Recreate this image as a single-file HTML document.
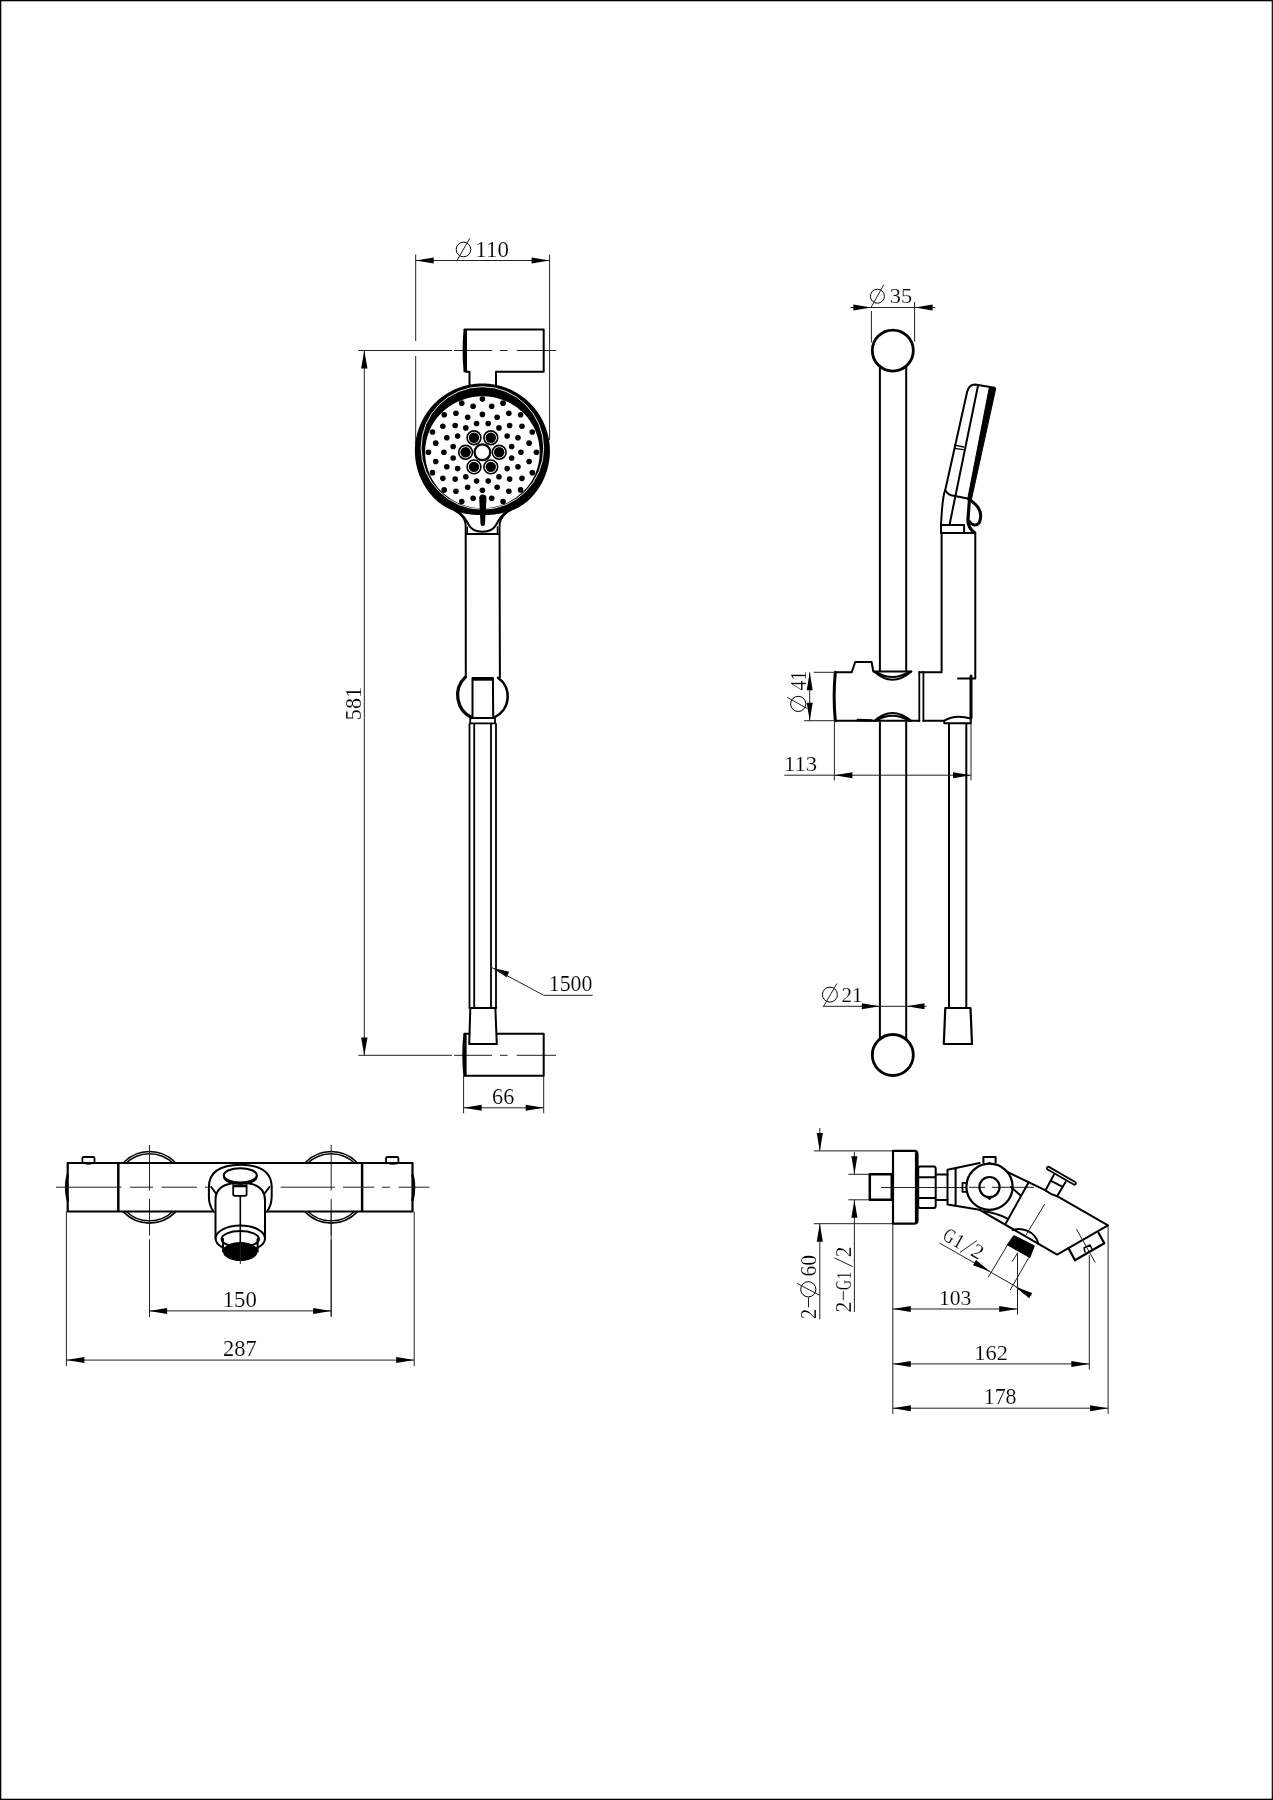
<!DOCTYPE html>
<html><head><meta charset="utf-8"><style>
html,body{margin:0;padding:0;background:#fff;}
svg{display:block;will-change:transform;}
text{font-family:"Liberation Serif",serif;fill:#000;stroke:#fff;stroke-width:0.7px;paint-order:normal;}
</style></head><body>
<svg width="1273" height="1800" viewBox="0 0 1273 1800">
<rect x="0" y="0" width="1273" height="1800" fill="#fff"/>
<rect x="0" y="0" width="1.3" height="1800" fill="#000"/><rect x="0" y="0" width="1273" height="1.3" fill="#000"/><rect x="1271.7" y="0" width="1.3" height="1800" fill="#1a1a1a"/><rect x="0" y="1798.7" width="1273" height="1.3" fill="#000"/>
<line x1="415.70" y1="254.50" x2="415.70" y2="341.00" stroke="#222" stroke-width="1.0" />
<line x1="415.70" y1="356.00" x2="415.70" y2="445.00" stroke="#222" stroke-width="1.0" />
<line x1="549.60" y1="254.50" x2="549.60" y2="440.00" stroke="#222" stroke-width="1.0" />
<line x1="415.70" y1="260.50" x2="549.60" y2="260.50" stroke="#222" stroke-width="1.0" />
<path d="M415.70,260.50 L433.70,257.50 L433.70,263.50 Z" fill="#000"/>
<path d="M549.60,260.50 L531.60,263.50 L531.60,257.50 Z" fill="#000"/>
<ellipse cx="463.5" cy="249.5" rx="7.3" ry="7.3" fill="none" stroke="#000" stroke-width="1"/>
<line x1="457.20" y1="260.20" x2="469.80" y2="238.20" stroke="#222" stroke-width="1.0" />
<text x="0" y="0" font-size="100" transform="translate(475.35,256.78) scale(0.2291,0.2222)">110</text>
<line x1="358.30" y1="350.50" x2="452.00" y2="350.50" stroke="#222" stroke-width="1.0" />
<line x1="454.00" y1="350.50" x2="492.00" y2="350.50" stroke="#222" stroke-width="1.0" />
<line x1="500.00" y1="350.50" x2="507.60" y2="350.50" stroke="#222" stroke-width="1.0" />
<line x1="516.70" y1="350.50" x2="556.00" y2="350.50" stroke="#222" stroke-width="1.0" />
<line x1="358.30" y1="1055.30" x2="452.00" y2="1055.30" stroke="#222" stroke-width="1.0" />
<line x1="454.00" y1="1055.30" x2="492.00" y2="1055.30" stroke="#222" stroke-width="1.0" />
<line x1="500.00" y1="1055.30" x2="507.60" y2="1055.30" stroke="#222" stroke-width="1.0" />
<line x1="516.70" y1="1055.30" x2="556.00" y2="1055.30" stroke="#222" stroke-width="1.0" />
<line x1="364.30" y1="350.60" x2="364.30" y2="1055.40" stroke="#222" stroke-width="1.0" />
<path d="M364.30,350.60 L367.50,368.60 L361.10,368.60 Z" fill="#000"/>
<path d="M364.30,1055.40 L361.10,1037.40 L367.50,1037.40 Z" fill="#000"/>
<text x="0" y="0" font-size="100" transform="translate(360.56,720.13) rotate(-90) scale(0.2210,0.2370)">581</text>
<path d="M464.5,329.6 L543.7,329.6 L543.7,371.8 L496,371.8 L496,386" fill="none" stroke="#000" stroke-width="2.0" stroke-linejoin="round" stroke-linecap="round" />
<path d="M466,371.8 L469.5,371.8 L469.5,386" fill="none" stroke="#000" stroke-width="2.0" stroke-linejoin="round" stroke-linecap="round" />
<path d="M463.6,329.2 Q461.6,350.5 463.6,372.3 L467,372.3 L467,329.2 Z" fill="#000"/>
<path d="M464.5,1033.8 L469.5,1033.8" fill="none" stroke="#000" stroke-width="2.0" stroke-linejoin="round" stroke-linecap="round" />
<path d="M496.8,1033.8 L543.7,1033.8 L543.7,1075.8 L464.5,1075.8" fill="none" stroke="#000" stroke-width="2.0" stroke-linejoin="round" stroke-linecap="round" />
<path d="M463.4,1033.4 Q461.2,1054.6 463.4,1076.3 L466.6,1076.3 L466.6,1033.4 Z" fill="#000"/>
<path d="M549.90,451.00 L549.89,452.18 L549.86,453.36 L549.81,454.53 L549.74,455.71 L549.64,456.88 L549.53,458.06 L549.40,459.23 L549.24,460.39 L549.07,461.56 L548.87,462.72 L548.66,463.88 L548.42,465.03 L548.17,466.18 L547.89,467.33 L547.60,468.47 L547.29,469.61 L546.95,470.74 L546.60,471.86 L546.22,472.98 L545.83,474.09 L545.42,475.19 L544.98,476.29 L544.53,477.37 L544.06,478.45 L543.58,479.53 L543.07,480.59 L542.54,481.64 L542.00,482.69 L541.44,483.72 L540.86,484.75 L540.26,485.77 L539.64,486.77 L539.01,487.76 L538.36,488.75 L537.69,489.72 L537.01,490.68 L536.31,491.62 L535.59,492.56 L534.86,493.48 L534.11,494.39 L533.34,495.28 L532.56,496.17 L531.77,497.03 L530.96,497.89 L530.13,498.73 L529.29,499.55 L528.42,500.35 L527.54,501.13 L526.64,501.89 L525.72,502.63 L524.79,503.34 L523.83,504.03 L522.87,504.70 L521.88,505.35 L520.89,505.97 L519.88,506.56 L518.86,507.14 L517.82,507.69 L516.78,508.22 L515.73,508.72 L514.66,509.20 L513.59,509.66 L512.51,510.10 L511.43,510.51 L510.33,510.90 L509.24,511.27 L508.13,511.62 L507.03,511.95 L505.92,512.26 L504.80,512.55 L503.69,512.83 L502.57,513.08 L501.45,513.32 L500.33,513.53 L499.21,513.74 L498.09,513.92 L496.97,514.09 L495.84,514.25 L494.72,514.39 L493.60,514.52 L492.48,514.63 L491.36,514.73 L490.24,514.82 L489.12,514.90 L488.00,514.96 L486.88,515.01 L485.76,515.05 L484.64,515.08 L483.52,515.09 L482.40,515.10 L481.28,515.09 L480.16,515.08 L479.04,515.05 L477.92,515.01 L476.80,514.96 L475.68,514.90 L474.56,514.82 L473.44,514.73 L472.32,514.63 L471.20,514.52 L470.08,514.39 L468.96,514.25 L467.83,514.09 L466.71,513.92 L465.59,513.74 L464.47,513.53 L463.35,513.32 L462.23,513.08 L461.11,512.83 L460.00,512.55 L458.88,512.26 L457.77,511.95 L456.67,511.62 L455.56,511.27 L454.47,510.90 L453.37,510.51 L452.29,510.10 L451.21,509.66 L450.14,509.20 L449.07,508.72 L448.02,508.22 L446.98,507.69 L445.94,507.14 L444.92,506.56 L443.91,505.97 L442.92,505.35 L441.93,504.70 L440.97,504.03 L440.01,503.34 L439.08,502.63 L438.16,501.89 L437.26,501.13 L436.38,500.35 L435.51,499.55 L434.67,498.73 L433.84,497.89 L433.03,497.03 L432.24,496.17 L431.46,495.28 L430.69,494.39 L429.94,493.48 L429.21,492.56 L428.49,491.62 L427.79,490.68 L427.11,489.72 L426.44,488.75 L425.79,487.76 L425.16,486.77 L424.54,485.77 L423.94,484.75 L423.36,483.72 L422.80,482.69 L422.26,481.64 L421.73,480.59 L421.22,479.53 L420.74,478.45 L420.27,477.37 L419.82,476.29 L419.38,475.19 L418.97,474.09 L418.58,472.98 L418.20,471.86 L417.85,470.74 L417.51,469.61 L417.20,468.47 L416.91,467.33 L416.63,466.18 L416.38,465.03 L416.14,463.88 L415.93,462.72 L415.73,461.56 L415.56,460.39 L415.40,459.23 L415.27,458.06 L415.16,456.88 L415.06,455.71 L414.99,454.53 L414.94,453.36 L414.91,452.18 L414.90,451.00 L414.91,449.82 L414.94,448.64 L414.99,447.47 L415.06,446.29 L415.16,445.12 L415.27,443.94 L415.40,442.77 L415.56,441.61 L415.73,440.44 L415.93,439.28 L416.14,438.12 L416.38,436.97 L416.63,435.82 L416.91,434.67 L417.20,433.53 L417.51,432.39 L417.85,431.26 L418.20,430.14 L418.58,429.02 L418.97,427.91 L419.38,426.81 L419.82,425.71 L420.27,424.63 L420.74,423.55 L421.22,422.47 L421.73,421.41 L422.26,420.36 L422.80,419.31 L423.36,418.28 L423.94,417.25 L424.54,416.23 L425.16,415.23 L425.79,414.24 L426.44,413.25 L427.11,412.28 L427.79,411.32 L428.49,410.38 L429.21,409.44 L429.94,408.52 L430.69,407.61 L431.46,406.72 L432.24,405.83 L433.03,404.97 L433.84,404.11 L434.67,403.27 L435.51,402.44 L436.37,401.63 L437.23,400.84 L438.12,400.06 L439.01,399.29 L439.92,398.54 L440.84,397.81 L441.78,397.09 L442.72,396.39 L443.68,395.71 L444.65,395.04 L445.64,394.39 L446.63,393.76 L447.63,393.14 L448.65,392.54 L449.68,391.96 L450.71,391.40 L451.76,390.86 L452.81,390.33 L453.87,389.82 L454.95,389.34 L456.03,388.87 L457.11,388.42 L458.21,387.98 L459.31,387.57 L460.42,387.18 L461.54,386.80 L462.66,386.45 L463.79,386.11 L464.93,385.80 L466.07,385.51 L467.22,385.23 L468.37,384.98 L469.52,384.74 L470.68,384.53 L471.84,384.33 L473.01,384.16 L474.17,384.00 L475.34,383.87 L476.52,383.76 L477.69,383.66 L478.87,383.59 L480.04,383.54 L481.22,383.51 L482.40,383.50 L483.58,383.51 L484.76,383.54 L485.93,383.59 L487.11,383.66 L488.28,383.76 L489.46,383.87 L490.63,384.00 L491.79,384.16 L492.96,384.33 L494.12,384.53 L495.28,384.74 L496.43,384.98 L497.58,385.23 L498.73,385.51 L499.87,385.80 L501.01,386.11 L502.14,386.45 L503.26,386.80 L504.38,387.18 L505.49,387.57 L506.59,387.98 L507.69,388.42 L508.77,388.87 L509.85,389.34 L510.93,389.82 L511.99,390.33 L513.04,390.86 L514.09,391.40 L515.12,391.96 L516.15,392.54 L517.17,393.14 L518.17,393.76 L519.16,394.39 L520.15,395.04 L521.12,395.71 L522.08,396.39 L523.02,397.09 L523.96,397.81 L524.88,398.54 L525.79,399.29 L526.68,400.06 L527.57,400.84 L528.43,401.63 L529.29,402.44 L530.13,403.27 L530.96,404.11 L531.77,404.97 L532.56,405.83 L533.34,406.72 L534.11,407.61 L534.86,408.52 L535.59,409.44 L536.31,410.38 L537.01,411.32 L537.69,412.28 L538.36,413.25 L539.01,414.24 L539.64,415.23 L540.26,416.23 L540.86,417.25 L541.44,418.28 L542.00,419.31 L542.54,420.36 L543.07,421.41 L543.58,422.47 L544.06,423.55 L544.53,424.63 L544.98,425.71 L545.42,426.81 L545.83,427.91 L546.22,429.02 L546.60,430.14 L546.95,431.26 L547.29,432.39 L547.60,433.53 L547.89,434.67 L548.17,435.82 L548.42,436.97 L548.66,438.12 L548.87,439.28 L549.07,440.44 L549.24,441.61 L549.40,442.77 L549.53,443.94 L549.64,445.12 L549.74,446.29 L549.81,447.47 L549.86,448.64 L549.89,449.82 Z M425.1,452.2 A57.3,56 0 1,1 539.7,452.2 A57.3,56 0 1,1 425.1,452.2 Z" fill="#000" fill-rule="evenodd"/>
<circle cx="482.4" cy="448" r="61.3" fill="none" stroke="#fff" stroke-width="0.9"/>
<circle cx="488.21" cy="423.51" r="2.80" fill="#000"/>
<circle cx="498.96" cy="427.89" r="2.80" fill="#000"/>
<circle cx="507.18" cy="435.99" r="2.80" fill="#000"/>
<circle cx="511.63" cy="446.57" r="2.80" fill="#000"/>
<circle cx="511.63" cy="458.03" r="2.80" fill="#000"/>
<circle cx="507.18" cy="468.61" r="2.80" fill="#000"/>
<circle cx="498.96" cy="476.71" r="2.80" fill="#000"/>
<circle cx="488.21" cy="481.09" r="2.80" fill="#000"/>
<circle cx="476.59" cy="481.09" r="2.80" fill="#000"/>
<circle cx="465.84" cy="476.71" r="2.80" fill="#000"/>
<circle cx="457.62" cy="468.61" r="2.80" fill="#000"/>
<circle cx="453.17" cy="458.03" r="2.80" fill="#000"/>
<circle cx="453.17" cy="446.57" r="2.80" fill="#000"/>
<circle cx="457.62" cy="435.99" r="2.80" fill="#000"/>
<circle cx="465.84" cy="427.89" r="2.80" fill="#000"/>
<circle cx="476.59" cy="423.51" r="2.80" fill="#000"/>
<circle cx="482.40" cy="414.38" r="2.80" fill="#000"/>
<circle cx="497.13" cy="417.26" r="2.80" fill="#000"/>
<circle cx="509.62" cy="425.48" r="2.80" fill="#000"/>
<circle cx="517.97" cy="437.79" r="2.80" fill="#000"/>
<circle cx="520.90" cy="452.30" r="2.80" fill="#000"/>
<circle cx="517.97" cy="466.81" r="2.80" fill="#000"/>
<circle cx="509.62" cy="479.12" r="2.80" fill="#000"/>
<circle cx="497.13" cy="487.34" r="2.80" fill="#000"/>
<circle cx="482.40" cy="490.22" r="2.80" fill="#000"/>
<circle cx="467.67" cy="487.34" r="2.80" fill="#000"/>
<circle cx="455.18" cy="479.12" r="2.80" fill="#000"/>
<circle cx="446.83" cy="466.81" r="2.80" fill="#000"/>
<circle cx="443.90" cy="452.30" r="2.80" fill="#000"/>
<circle cx="446.83" cy="437.79" r="2.80" fill="#000"/>
<circle cx="455.18" cy="425.48" r="2.80" fill="#000"/>
<circle cx="467.67" cy="417.26" r="2.80" fill="#000"/>
<circle cx="491.69" cy="406.31" r="2.80" fill="#000"/>
<circle cx="508.85" cy="413.32" r="2.80" fill="#000"/>
<circle cx="521.98" cy="426.25" r="2.80" fill="#000"/>
<circle cx="529.09" cy="443.15" r="2.80" fill="#000"/>
<circle cx="529.09" cy="461.45" r="2.80" fill="#000"/>
<circle cx="521.98" cy="478.35" r="2.80" fill="#000"/>
<circle cx="508.85" cy="491.28" r="2.80" fill="#000"/>
<circle cx="491.69" cy="498.29" r="2.80" fill="#000"/>
<circle cx="473.11" cy="498.29" r="2.80" fill="#000"/>
<circle cx="455.95" cy="491.28" r="2.80" fill="#000"/>
<circle cx="442.82" cy="478.35" r="2.80" fill="#000"/>
<circle cx="435.71" cy="461.45" r="2.80" fill="#000"/>
<circle cx="435.71" cy="443.15" r="2.80" fill="#000"/>
<circle cx="442.82" cy="426.25" r="2.80" fill="#000"/>
<circle cx="455.95" cy="413.32" r="2.80" fill="#000"/>
<circle cx="473.11" cy="406.31" r="2.80" fill="#000"/>
<circle cx="482.40" cy="399.11" r="2.80" fill="#000"/>
<circle cx="503.06" cy="403.16" r="2.80" fill="#000"/>
<circle cx="520.58" cy="414.69" r="2.80" fill="#000"/>
<circle cx="532.29" cy="431.95" r="2.80" fill="#000"/>
<circle cx="536.40" cy="452.30" r="2.80" fill="#000"/>
<circle cx="532.29" cy="472.65" r="2.80" fill="#000"/>
<circle cx="520.58" cy="489.91" r="2.80" fill="#000"/>
<circle cx="503.06" cy="501.44" r="2.80" fill="#000"/>
<circle cx="461.74" cy="501.44" r="2.80" fill="#000"/>
<circle cx="444.22" cy="489.91" r="2.80" fill="#000"/>
<circle cx="432.51" cy="472.65" r="2.80" fill="#000"/>
<circle cx="428.40" cy="452.30" r="2.80" fill="#000"/>
<circle cx="432.51" cy="431.95" r="2.80" fill="#000"/>
<circle cx="444.22" cy="414.69" r="2.80" fill="#000"/>
<circle cx="461.74" cy="403.16" r="2.80" fill="#000"/>
<circle cx="490.80" cy="437.75" r="6.90" fill="none" stroke="#000" stroke-width="1.6"/>
<circle cx="490.80" cy="437.75" r="5.20" fill="#000"/>
<circle cx="499.20" cy="452.30" r="6.90" fill="none" stroke="#000" stroke-width="1.6"/>
<circle cx="499.20" cy="452.30" r="5.20" fill="#000"/>
<circle cx="490.80" cy="466.85" r="6.90" fill="none" stroke="#000" stroke-width="1.6"/>
<circle cx="490.80" cy="466.85" r="5.20" fill="#000"/>
<circle cx="474.00" cy="466.85" r="6.90" fill="none" stroke="#000" stroke-width="1.6"/>
<circle cx="474.00" cy="466.85" r="5.20" fill="#000"/>
<circle cx="465.60" cy="452.30" r="6.90" fill="none" stroke="#000" stroke-width="1.6"/>
<circle cx="465.60" cy="452.30" r="5.20" fill="#000"/>
<circle cx="474.00" cy="437.75" r="6.90" fill="none" stroke="#000" stroke-width="1.6"/>
<circle cx="474.00" cy="437.75" r="5.20" fill="#000"/>
<circle cx="482.40" cy="452.30" r="7.85" fill="none" stroke="#000" stroke-width="2.3"/>
<path d="M479.2,498 Q479.2,494.5 482.85,494.5 Q486.5,494.5 486.5,498 L485,523.5 Q485,526 482.75,526 Q480.5,526 480.5,523.5 Z" fill="#000"/>
<path d="M443.5,504.2 C450.5,509.2 465.5,512 465.7,526 L465.8,677" fill="none" stroke="#000" stroke-width="2.0" stroke-linejoin="round" stroke-linecap="round" />
<path d="M521.3,504.2 C514.3,509.2 499.7,512 499.5,526 L499.9,677" fill="none" stroke="#000" stroke-width="2.0" stroke-linejoin="round" stroke-linecap="round" />
<path d="M458.5,512.3 C462.5,514.2 465.5,518.5 468.5,524.5 C471,529.5 475,531.7 482.4,531.7 C489.8,531.7 493.8,529.5 496.3,524.5 C499.3,518.5 502.3,514.2 506.3,512.3" fill="none" stroke="#000" stroke-width="2.0" stroke-linejoin="round" stroke-linecap="round" />
<line x1="465.80" y1="534.10" x2="499.90" y2="534.10" stroke="#000" stroke-width="2" />
<path d="M467.3,527 L467.3,534 M497.5,527 L497.5,534" fill="none" stroke="#000" stroke-width="1.5" stroke-linejoin="round" stroke-linecap="round" />
<path d="M465.30,677.20 A24.94,24.94 0 0,0 471.50,717.50" fill="none" stroke="#000" stroke-width="3.2" stroke-linejoin="round" stroke-linecap="round" />
<path d="M498.00,677.70 A22.96,22.96 0 0,1 495.00,717.00" fill="none" stroke="#000" stroke-width="2.5" stroke-linejoin="round" stroke-linecap="round" />
<path d="M472.5,718 L472.5,677.9 L492.9,677.9 L493.2,718" fill="none" stroke="#000" stroke-width="2" stroke-linejoin="round" stroke-linecap="round" />
<line x1="472.50" y1="679.60" x2="492.90" y2="679.60" stroke="#000" stroke-width="2.2" />
<path d="M470.2,718 L495,718 L495,723.3 L470.2,723.3 Z" fill="none" stroke="#000" stroke-width="1.8" stroke-linejoin="round" stroke-linecap="round" />
<line x1="469.50" y1="723.30" x2="469.50" y2="1008.00" stroke="#000" stroke-width="1.8" />
<line x1="474.20" y1="723.30" x2="474.20" y2="1008.00" stroke="#000" stroke-width="1.8" />
<line x1="491.00" y1="723.30" x2="491.00" y2="1008.00" stroke="#000" stroke-width="1.8" />
<line x1="496.00" y1="723.30" x2="496.00" y2="1008.00" stroke="#000" stroke-width="1.8" />
<path d="M469.6,1008 L496.1,1008" fill="none" stroke="#000" stroke-width="2.2" stroke-linejoin="round" stroke-linecap="round" />
<path d="M470.3,1009 L469.2,1043.9 L496.8,1043.9 L495.4,1009" fill="none" stroke="#000" stroke-width="2" stroke-linejoin="round" stroke-linecap="round" />
<path d="M492.20,967.70 L509.11,971.85 L506.69,977.35 Z" fill="#000"/>
<line x1="492.20" y1="967.70" x2="543.70" y2="995.30" stroke="#222" stroke-width="1.0" />
<line x1="543.70" y1="995.30" x2="592.70" y2="995.30" stroke="#222" stroke-width="1.0" />
<text x="0" y="0" font-size="100" transform="translate(548.75,991.28) scale(0.2181,0.2222)">1500</text>
<line x1="463.60" y1="1076.00" x2="463.60" y2="1113.30" stroke="#222" stroke-width="1.0" />
<line x1="543.70" y1="1076.00" x2="543.70" y2="1113.30" stroke="#222" stroke-width="1.0" />
<line x1="463.60" y1="1107.80" x2="543.70" y2="1107.80" stroke="#222" stroke-width="1.0" />
<path d="M463.60,1107.80 L481.60,1104.80 L481.60,1110.80 Z" fill="#000"/>
<path d="M543.70,1107.80 L525.70,1110.80 L525.70,1104.80 Z" fill="#000"/>
<text x="0" y="0" font-size="100" transform="translate(492.11,1103.58) scale(0.2226,0.2209)">66</text>
<line x1="850.50" y1="307.50" x2="935.30" y2="307.50" stroke="#222" stroke-width="1.0" />
<path d="M871.40,307.50 L853.40,310.50 L853.40,304.50 Z" fill="#000"/>
<path d="M914.60,307.50 L932.60,304.50 L932.60,310.50 Z" fill="#000"/>
<line x1="871.40" y1="311.00" x2="871.40" y2="342.50" stroke="#222" stroke-width="1.0" />
<line x1="914.60" y1="302.00" x2="914.60" y2="341.50" stroke="#222" stroke-width="1.0" />
<ellipse cx="877.4" cy="296.2" rx="7" ry="7" fill="none" stroke="#000" stroke-width="1"/>
<line x1="871.00" y1="307.50" x2="883.70" y2="284.80" stroke="#222" stroke-width="1.0" />
<text x="0" y="0" font-size="100" transform="translate(889.79,303.48) scale(0.2240,0.2194)">35</text>
<circle cx="892.80" cy="350.60" r="20.50" fill="none" stroke="#000" stroke-width="2.8"/>
<line x1="879.90" y1="365.00" x2="879.90" y2="671.50" stroke="#000" stroke-width="2" />
<line x1="906.20" y1="365.00" x2="906.20" y2="671.50" stroke="#000" stroke-width="2" />
<line x1="879.90" y1="721.60" x2="879.90" y2="1040.00" stroke="#000" stroke-width="2" />
<line x1="906.20" y1="721.60" x2="906.20" y2="1040.00" stroke="#000" stroke-width="2" />
<circle cx="892.80" cy="1055.00" r="20.50" fill="none" stroke="#000" stroke-width="2.8"/>
<line x1="822.80" y1="1006.30" x2="926.50" y2="1006.30" stroke="#222" stroke-width="1.0" />
<path d="M879.80,1006.30 L861.80,1009.30 L861.80,1003.30 Z" fill="#000"/>
<path d="M906.50,1006.30 L924.50,1003.30 L924.50,1009.30 Z" fill="#000"/>
<ellipse cx="829.9" cy="994.6" rx="7.5" ry="7.5" fill="none" stroke="#000" stroke-width="1"/>
<line x1="823.60" y1="1006.30" x2="836.90" y2="983.60" stroke="#222" stroke-width="1.0" />
<text x="0" y="0" font-size="100" transform="translate(841.45,1002.40) scale(0.2112,0.2136)">21</text>
<path d="M941,525 C942,505 943,495 945.2,490.2 L967.1,392 Q969,384.5 975,384.5 L994.6,387.7" fill="none" stroke="#000" stroke-width="2.0" stroke-linejoin="round" stroke-linecap="round" />
<path d="M989.3,387.6 L995.8,388.2 L971.4,499.6 L967.6,499.6 Z" fill="#000" stroke="#000" stroke-width="1" stroke-linejoin="round"/>
<path d="M969.5,499 L967.9,520.3 Q968,528 974.5,532.6" fill="none" stroke="#000" stroke-width="3.2" stroke-linejoin="round" stroke-linecap="round" />
<path d="M978.1,385.3 L949.5,525" fill="none" stroke="#000" stroke-width="2" stroke-linejoin="round" stroke-linecap="round" />
<path d="M945.2,490.2 Q948,495 953.7,495.8 L968.8,498.7" fill="none" stroke="#000" stroke-width="2" stroke-linejoin="round" stroke-linecap="round" />
<path d="M970,500 Q985,510 979,523 Q974,528 969,521" fill="none" stroke="#000" stroke-width="3" stroke-linejoin="round" stroke-linecap="round" />
<path d="M954.8,445.2 L963.6,447 M954.6,448.3 L963.4,449.6" fill="none" stroke="#000" stroke-width="1.3" stroke-linejoin="round" stroke-linecap="round" />
<path d="M941,525 L964.1,525 L964.1,533 M941,525 L941,533 L975,533" fill="none" stroke="#000" stroke-width="2" stroke-linejoin="round" stroke-linecap="round" />
<path d="M941.6,533 L941.6,672.3 L919.3,672.3" fill="none" stroke="#000" stroke-width="2" stroke-linejoin="round" stroke-linecap="round" />
<path d="M975.3,533 L975.3,678.4 L958,678.4" fill="none" stroke="#000" stroke-width="2" stroke-linejoin="round" stroke-linecap="round" />
<path d="M835.3,672.3 Q833,696 835.3,720.7" fill="none" stroke="#000" stroke-width="3" stroke-linejoin="round" stroke-linecap="round" />
<path d="M835.3,672.3 L851.7,672.3 L855.2,662 L871.6,662 L873.3,671.5 L911.3,671.5" fill="none" stroke="#000" stroke-width="2" stroke-linejoin="round" stroke-linecap="round" />
<path d="M874.2,671.5 Q892.3,688 911.3,671.5 M876,671.8 Q892.3,682 909,671.8" fill="none" stroke="#000" stroke-width="2" stroke-linejoin="round" stroke-linecap="round" />
<path d="M919.3,672 L919.3,721 M923.4,672 L923.4,721" fill="none" stroke="#000" stroke-width="1.8" stroke-linejoin="round" stroke-linecap="round" />
<path d="M971,676 L971,718" fill="none" stroke="#000" stroke-width="3" stroke-linejoin="round" stroke-linecap="round" />
<path d="M835.3,720.7 L919.3,720.7 M923.4,720.7 L944.3,720.7 Q955,714 970.7,718.5 L970.7,723.3 L944.3,723.3 L944.3,720.7" fill="none" stroke="#000" stroke-width="2" stroke-linejoin="round" stroke-linecap="round" />
<path d="M874.2,721 Q892.3,705 911.3,721 M876,720.7 Q892.3,711 909,720.7" fill="none" stroke="#000" stroke-width="2" stroke-linejoin="round" stroke-linecap="round" />
<path d="M857.8,720 L871.6,720.5" fill="none" stroke="#000" stroke-width="2.5" stroke-linejoin="round" stroke-linecap="round" />
<line x1="949.00" y1="723.30" x2="949.00" y2="1008.00" stroke="#000" stroke-width="2" />
<line x1="966.30" y1="723.30" x2="966.30" y2="1008.00" stroke="#000" stroke-width="2" />
<path d="M945.3,1008 L970.5,1008 L972,1044 L943.8,1044 Z" fill="none" stroke="#000" stroke-width="2.2" stroke-linejoin="round" stroke-linecap="round" />
<line x1="809.70" y1="672.30" x2="809.70" y2="720.70" stroke="#222" stroke-width="1.0" />
<path d="M809.70,672.30 L812.70,690.30 L806.70,690.30 Z" fill="#000"/>
<path d="M809.70,720.70 L806.70,702.70 L812.70,702.70 Z" fill="#000"/>
<line x1="813.70" y1="672.30" x2="835.00" y2="672.30" stroke="#222" stroke-width="1.0" />
<line x1="804.20" y1="720.70" x2="835.00" y2="720.70" stroke="#222" stroke-width="1.0" />
<text x="0" y="0" font-size="100" transform="translate(805.70,690.60) rotate(-90) scale(0.1978,0.2227)">41</text>
<circle cx="798.2" cy="703.9" r="7.6" fill="none" stroke="#000" stroke-width="1"/>
<line x1="787.10" y1="697.30" x2="807.40" y2="708.60" stroke="#222" stroke-width="1.0" />
<line x1="784.30" y1="775.20" x2="971.00" y2="775.20" stroke="#222" stroke-width="1.0" />
<path d="M834.40,775.20 L852.40,772.20 L852.40,778.20 Z" fill="#000"/>
<path d="M971.00,775.20 L953.00,778.20 L953.00,772.20 Z" fill="#000"/>
<line x1="834.40" y1="720.00" x2="834.40" y2="780.40" stroke="#222" stroke-width="1.0" />
<line x1="971.00" y1="720.00" x2="971.00" y2="780.40" stroke="#222" stroke-width="1.0" />
<text x="0" y="0" font-size="100" transform="translate(784.08,770.69) scale(0.2261,0.2075)">113</text>
<defs><clipPath id="outbody"><path d="M0,1100 H440 V1163 H0 Z M0,1211.5 H440 V1300 H0 Z"/></clipPath></defs>
<g clip-path="url(#outbody)">
<circle cx="149.50" cy="1187.30" r="35.80" fill="none" stroke="#000" stroke-width="1.6"/>
<circle cx="149.50" cy="1187.30" r="33.60" fill="none" stroke="#000" stroke-width="1.4"/>
</g>
<line x1="149.50" y1="1145.00" x2="149.50" y2="1190.50" stroke="#222" stroke-width="1.0" />
<line x1="149.50" y1="1199.00" x2="149.50" y2="1235.60" stroke="#222" stroke-width="1.0" />
<line x1="149.50" y1="1239.40" x2="149.50" y2="1317.00" stroke="#222" stroke-width="1.0" />
<g clip-path="url(#outbody)">
<circle cx="331.20" cy="1187.30" r="35.80" fill="none" stroke="#000" stroke-width="1.6"/>
<circle cx="331.20" cy="1187.30" r="33.60" fill="none" stroke="#000" stroke-width="1.4"/>
</g>
<line x1="331.20" y1="1145.00" x2="331.20" y2="1190.50" stroke="#222" stroke-width="1.0" />
<line x1="331.20" y1="1199.00" x2="331.20" y2="1235.60" stroke="#222" stroke-width="1.0" />
<line x1="331.20" y1="1239.40" x2="331.20" y2="1317.00" stroke="#222" stroke-width="1.0" />
<path d="M67.7,1163 L412.5,1163 L412.5,1211.5 L67.7,1211.5 Z" fill="none" stroke="#000" stroke-width="2.2" stroke-linejoin="round" stroke-linecap="round" />
<path d="M67.7,1175 Q64.5,1187 67.7,1200" fill="none" stroke="#000" stroke-width="2.5" stroke-linejoin="round" stroke-linecap="round" />
<path d="M412.5,1175 Q415.7,1187 412.5,1200" fill="none" stroke="#000" stroke-width="2.5" stroke-linejoin="round" stroke-linecap="round" />
<line x1="118.30" y1="1163.00" x2="118.30" y2="1211.50" stroke="#000" stroke-width="2.5" />
<line x1="362.10" y1="1163.00" x2="362.10" y2="1211.50" stroke="#000" stroke-width="2.5" />
<path d="M82.4,1163 L82.4,1158 Q82.4,1157 84,1157 L93,1157 Q94.5,1157 94.5,1158 L94.5,1163 Q88.5,1164.5 82.4,1163" fill="none" stroke="#000" stroke-width="1.8" stroke-linejoin="round" stroke-linecap="round" />
<path d="M386,1163 L386,1158 Q386,1157 387.6,1157 L396.8,1157 Q398.4,1157 398.4,1158 L398.4,1163 Q392,1164.5 386,1163" fill="none" stroke="#000" stroke-width="1.8" stroke-linejoin="round" stroke-linecap="round" />
<line x1="56.00" y1="1187.20" x2="121.50" y2="1187.20" stroke="#222" stroke-width="1.0" />
<line x1="130.00" y1="1187.20" x2="153.00" y2="1187.20" stroke="#222" stroke-width="1.0" />
<line x1="161.50" y1="1187.20" x2="197.00" y2="1187.20" stroke="#222" stroke-width="1.0" />
<line x1="205.00" y1="1187.20" x2="213.00" y2="1187.20" stroke="#222" stroke-width="1.0" />
<line x1="264.60" y1="1187.20" x2="272.50" y2="1187.20" stroke="#222" stroke-width="1.0" />
<line x1="280.70" y1="1187.20" x2="335.00" y2="1187.20" stroke="#222" stroke-width="1.0" />
<line x1="343.00" y1="1187.20" x2="374.30" y2="1187.20" stroke="#222" stroke-width="1.0" />
<line x1="382.00" y1="1187.20" x2="390.00" y2="1187.20" stroke="#222" stroke-width="1.0" />
<line x1="398.70" y1="1187.20" x2="429.30" y2="1187.20" stroke="#222" stroke-width="1.0" />
<path d="M213.6,1211.5 Q208.5,1205 208.9,1195 L208.9,1187 Q209,1165 240.3,1164.7 Q271.5,1165 271.7,1187 L271.7,1195 Q272,1205 267,1211.5" fill="#fff" stroke="#000" stroke-width="2" stroke-linejoin="round" stroke-linecap="round" />
<path d="M215.5,1238 L215.5,1200 Q215.5,1182.8 240.3,1182.8 Q265,1182.8 265,1200 L265,1238" fill="#fff" stroke="#000" stroke-width="2" stroke-linejoin="round" stroke-linecap="round" />
<path d="M211.2,1187 L215.9,1193.4 M269.4,1187 L264.7,1193.4" fill="none" stroke="#000" stroke-width="1.8" stroke-linejoin="round" stroke-linecap="round" />
<ellipse cx="240.3" cy="1238.5" rx="24.7" ry="13" fill="#fff" stroke="#000" stroke-width="2"/>
<ellipse cx="240.3" cy="1239" rx="18.7" ry="8" fill="none" stroke="#000" stroke-width="2"/>
<path d="M223,1239 L223,1251.5 M257.6,1239 L257.6,1251.5" fill="none" stroke="#000" stroke-width="2" stroke-linejoin="round" stroke-linecap="round" />
<ellipse cx="240.3" cy="1251.5" rx="17.3" ry="9.6" fill="#000"/>
<line x1="233.20" y1="1186.00" x2="246.60" y2="1186.00" stroke="#000" stroke-width="2.6" />
<path d="M233.2,1184.8 L233.2,1194 Q233.2,1195.8 235,1195.8 L244.8,1195.8 Q246.6,1195.8 246.6,1194 L246.6,1184.8" fill="none" stroke="#000" stroke-width="1.8" stroke-linejoin="round" stroke-linecap="round" />
<ellipse cx="240.3" cy="1176.8" rx="16.3" ry="7.1" fill="#fff" stroke="#000" stroke-width="2"/>
<ellipse cx="240.3" cy="1175.3" rx="16.5" ry="7.1" fill="#fff" stroke="#000" stroke-width="2"/>
<line x1="240.30" y1="1196.00" x2="240.30" y2="1243.00" stroke="#000" stroke-width="1.6" />
<line x1="240.30" y1="1243.00" x2="240.30" y2="1264.00" stroke="#222" stroke-width="1.0" />
<line x1="149.10" y1="1310.90" x2="331.20" y2="1310.90" stroke="#222" stroke-width="1.0" />
<path d="M149.10,1310.90 L167.10,1307.90 L167.10,1313.90 Z" fill="#000"/>
<path d="M331.20,1310.90 L313.20,1313.90 L313.20,1307.90 Z" fill="#000"/>
<line x1="331.20" y1="1211.50" x2="331.20" y2="1316.30" stroke="#222" stroke-width="1.0" />
<text x="0" y="0" font-size="100" transform="translate(222.66,1307.08) scale(0.2284,0.2207)">150</text>
<line x1="66.40" y1="1211.50" x2="66.40" y2="1366.10" stroke="#222" stroke-width="1.0" />
<line x1="414.20" y1="1211.50" x2="414.20" y2="1366.10" stroke="#222" stroke-width="1.0" />
<line x1="66.40" y1="1360.10" x2="414.20" y2="1360.10" stroke="#222" stroke-width="1.0" />
<path d="M66.40,1360.10 L84.40,1357.10 L84.40,1363.10 Z" fill="#000"/>
<path d="M414.20,1360.10 L396.20,1363.10 L396.20,1357.10 Z" fill="#000"/>
<text x="0" y="0" font-size="100" transform="translate(222.99,1356.38) scale(0.2246,0.2222)">287</text>
<line x1="819.80" y1="1128.00" x2="819.80" y2="1150.90" stroke="#222" stroke-width="1.0" />
<path d="M819.80,1150.90 L816.70,1132.90 L822.90,1132.90 Z" fill="#000"/>
<line x1="819.80" y1="1223.70" x2="819.80" y2="1319.30" stroke="#222" stroke-width="1.0" />
<path d="M819.80,1223.70 L822.90,1241.70 L816.70,1241.70 Z" fill="#000"/>
<line x1="813.80" y1="1150.90" x2="893.00" y2="1150.90" stroke="#222" stroke-width="1.0" />
<line x1="813.80" y1="1223.70" x2="893.00" y2="1223.70" stroke="#222" stroke-width="1.0" />
<line x1="854.40" y1="1152.00" x2="854.40" y2="1174.30" stroke="#222" stroke-width="1.0" />
<path d="M854.40,1174.30 L851.40,1156.30 L857.40,1156.30 Z" fill="#000"/>
<line x1="854.40" y1="1199.80" x2="854.40" y2="1312.00" stroke="#222" stroke-width="1.0" />
<path d="M854.40,1199.80 L857.40,1217.80 L851.40,1217.80 Z" fill="#000"/>
<line x1="848.40" y1="1174.30" x2="870.00" y2="1174.30" stroke="#222" stroke-width="1.0" />
<line x1="848.40" y1="1199.80" x2="870.00" y2="1199.80" stroke="#222" stroke-width="1.0" />
<text x="0" y="0" font-size="100" transform="translate(815.68,1276.57) rotate(-90) scale(0.2163,0.2222)">60</text>
<circle cx="808.3" cy="1289.3" r="7.6" fill="none" stroke="#000" stroke-width="1"/>
<line x1="797.00" y1="1283.40" x2="819.80" y2="1295.40" stroke="#222" stroke-width="1.0" />
<line x1="808.50" y1="1297.20" x2="808.50" y2="1307.40" stroke="#222" stroke-width="1.0" />
<text x="0" y="0" font-size="100" transform="translate(815.90,1319.01) rotate(-90) scale(0.2025,0.2242)">2</text>
<text x="0" y="0" font-size="100" transform="translate(851.20,1257.27) rotate(-90) scale(0.2150,0.2242)">2</text>
<line x1="834.30" y1="1257.90" x2="852.70" y2="1266.60" stroke="#222" stroke-width="1.0" />
<text x="0" y="0" font-size="100" transform="translate(850.70,1279.02) rotate(-90) scale(0.1437,0.2091)">1</text>
<text x="0" y="0" font-size="100" transform="translate(850.68,1290.07) rotate(-90) scale(0.1415,0.2209)">G</text>
<line x1="843.30" y1="1291.10" x2="843.30" y2="1300.30" stroke="#222" stroke-width="1.0" />
<text x="0" y="0" font-size="100" transform="translate(851.20,1312.48) rotate(-90) scale(0.2175,0.2242)">2</text>
<path d="M893,1150.8 L914,1150.8 Q917.5,1150.8 917.5,1154 L917.5,1220.5 Q917.5,1223.7 914,1223.7 L893,1223.7 Z" fill="none" stroke="#000" stroke-width="2.2" stroke-linejoin="round" stroke-linecap="round" />
<line x1="916.20" y1="1152.50" x2="916.20" y2="1222.00" stroke="#000" stroke-width="2.6" />
<line x1="891.60" y1="1174.30" x2="891.60" y2="1199.80" stroke="#000" stroke-width="2.2" />
<path d="M893,1174.3 L869.8,1174.3 L869.8,1199.8 L893,1199.8" fill="none" stroke="#000" stroke-width="2.5" stroke-linejoin="round" stroke-linecap="round" />
<line x1="881.00" y1="1187.50" x2="966.00" y2="1187.50" stroke="#222" stroke-width="1.0" />
<path d="M920,1166.5 L934,1166.5 Q935.7,1166.5 935.7,1169 L935.7,1205.5 Q935.7,1208 934,1208 L920,1208 Q918.2,1208 918.2,1205.5 L918.2,1169 Q918.2,1166.5 920,1166.5 Z M918.2,1177.2 L935.7,1177.2 M918.2,1197.9 L935.7,1197.9" fill="none" stroke="#000" stroke-width="2" stroke-linejoin="round" stroke-linecap="round" />
<path d="M935.7,1174.4 L947.5,1174.4 M935.7,1199.9 L947.5,1199.9" fill="none" stroke="#000" stroke-width="2" stroke-linejoin="round" stroke-linecap="round" />
<path d="M979.6,1163.1 L947.5,1169.7 L947.5,1204.6 L979.6,1209.8 M955.6,1168.5 L955.6,1205.8" fill="none" stroke="#000" stroke-width="2" stroke-linejoin="round" stroke-linecap="round" />
<path d="M989,1163 L1045.6,1190.4 Q1050,1194 1057.1,1196.2 L1108,1225.4 L1057.1,1254.6 L979.6,1209.8" fill="none" stroke="#000" stroke-width="2" stroke-linejoin="round" stroke-linecap="round" />
<circle cx="989.50" cy="1186.70" r="23.10" fill="#fff" stroke="#000" stroke-width="2.2"/>
<line x1="969.00" y1="1187.30" x2="985.00" y2="1187.30" stroke="#222" stroke-width="1.0" />
<line x1="992.00" y1="1187.30" x2="1034.00" y2="1187.30" stroke="#222" stroke-width="1.0" />
<path d="M966.4,1182.9 L962.5,1182.9 L962.5,1191.8 L966.4,1191.8" fill="none" stroke="#000" stroke-width="1.8" stroke-linejoin="round" stroke-linecap="round" />
<circle cx="989.50" cy="1187.10" r="10.10" fill="none" stroke="#000" stroke-width="2.2"/>
<path d="M987.3,1197 L989.5,1199 L991.7,1197" fill="none" stroke="#000" stroke-width="1.8" stroke-linejoin="round" stroke-linecap="round" />
<path d="M983.4,1162.6 L983.4,1157 L995.6,1157 L995.6,1162.6" fill="none" stroke="#000" stroke-width="2" stroke-linejoin="round" stroke-linecap="round" />
<path d="M1028.6,1182.4 L1006,1223 M1011,1187 L1020.6,1195.6 M983.8,1211.3 Q996,1213 1007,1218.3" fill="none" stroke="#000" stroke-width="2" stroke-linejoin="round" stroke-linecap="round" />
<path d="M1045.4,1190.5 L1053.8,1175 M1057.1,1196.2 L1065.6,1182 M1051.5,1181.1 L1061.8,1186.3" fill="none" stroke="#000" stroke-width="2" stroke-linejoin="round" stroke-linecap="round" />
<path d="M1048.5,1166.6 L1075.5,1182.2 Q1076.6,1184.5 1074.2,1184.8 L1047.2,1169.2 Q1046.3,1167 1048.5,1166.6 Z" fill="none" stroke="#000" stroke-width="1.8" stroke-linejoin="round" stroke-linecap="round" />
<path d="M1068.4,1248 L1075,1260.3 L1104.3,1243.3 L1098.6,1233" fill="none" stroke="#000" stroke-width="2.2" stroke-linejoin="round" stroke-linecap="round" />
<path d="M1085,1252 L1084,1248 L1090,1245 L1092,1249" fill="none" stroke="#000" stroke-width="1.5" stroke-linejoin="round" stroke-linecap="round" />
<path d="M1013.9,1235.9 L1034,1245.9 L1029.7,1257.2 L1007.7,1244.7 Z" fill="#000" stroke="#000" stroke-width="1.5" stroke-linejoin="round" stroke-linecap="round" />
<line x1="1013.50" y1="1233.60" x2="1036.50" y2="1245.60" stroke="#fff" stroke-width="1" />
<path d="M1012.7,1230.2 C1020,1227 1035,1230 1038.5,1244" fill="none" stroke="#000" stroke-width="2" stroke-linejoin="round" stroke-linecap="round" />
<line x1="1076.50" y1="1229.20" x2="1095.30" y2="1262.70" stroke="#222" stroke-width="1.0" />
<line x1="939.40" y1="1243.00" x2="1031.30" y2="1295.30" stroke="#222" stroke-width="1.0" />
<path d="M990.00,1271.40 L973.02,1265.21 L975.98,1259.99 Z" fill="#000"/>
<path d="M1015.20,1286.80 L1032.18,1292.99 L1029.22,1298.21 Z" fill="#000"/>
<line x1="988.20" y1="1277.30" x2="1007.70" y2="1244.70" stroke="#222" stroke-width="1.0" />
<line x1="1010.20" y1="1290.00" x2="1029.00" y2="1257.20" stroke="#222" stroke-width="1.0" />
<line x1="1012.00" y1="1261.60" x2="1017.70" y2="1252.80" stroke="#222" stroke-width="1.0" />
<line x1="1025.90" y1="1235.20" x2="1044.70" y2="1204.10" stroke="#222" stroke-width="1.0" />
<text x="0" y="0" font-size="100" transform="translate(942.00,1239.40) rotate(29.4) translate(-0.60,-0.20) scale(0.1508,0.2045)">G</text>
<text x="0" y="0" font-size="100" transform="translate(953.15,1245.68) rotate(29.4) translate(-1.53,-0.00) scale(0.1803,0.2076)">1</text>
<text x="0" y="0" font-size="100" transform="translate(970.31,1255.35) rotate(29.4) translate(-0.98,-0.00) scale(0.2175,0.2076)">2</text>
<line x1="959.89" y1="1252.47" x2="976.86" y2="1240.68" stroke="#222" stroke-width="1.0" />
<line x1="892.80" y1="1223.70" x2="892.80" y2="1413.90" stroke="#222" stroke-width="1.0" />
<line x1="892.80" y1="1309.00" x2="1017.20" y2="1309.00" stroke="#222" stroke-width="1.0" />
<path d="M892.80,1309.00 L910.80,1306.00 L910.80,1312.00 Z" fill="#000"/>
<path d="M1017.20,1309.00 L999.20,1312.00 L999.20,1306.00 Z" fill="#000"/>
<line x1="1017.50" y1="1252.80" x2="1017.50" y2="1314.60" stroke="#222" stroke-width="1.0" />
<text x="0" y="0" font-size="100" transform="translate(938.96,1304.99) scale(0.2160,0.2104)">103</text>
<line x1="892.80" y1="1363.90" x2="1089.30" y2="1363.90" stroke="#222" stroke-width="1.0" />
<path d="M892.80,1363.90 L910.80,1360.90 L910.80,1366.90 Z" fill="#000"/>
<path d="M1089.30,1363.90 L1071.30,1366.90 L1071.30,1360.90 Z" fill="#000"/>
<line x1="1089.30" y1="1255.00" x2="1089.30" y2="1369.60" stroke="#222" stroke-width="1.0" />
<text x="0" y="0" font-size="100" transform="translate(974.29,1359.89) scale(0.2243,0.2104)">162</text>
<line x1="892.80" y1="1408.20" x2="1108.10" y2="1408.20" stroke="#222" stroke-width="1.0" />
<path d="M892.80,1408.20 L910.80,1405.20 L910.80,1411.20 Z" fill="#000"/>
<path d="M1108.10,1408.20 L1090.10,1411.20 L1090.10,1405.20 Z" fill="#000"/>
<line x1="1108.10" y1="1225.40" x2="1108.10" y2="1413.90" stroke="#222" stroke-width="1.0" />
<text x="0" y="0" font-size="100" transform="translate(983.74,1404.18) scale(0.2189,0.2222)">178</text>
</svg>
</body></html>
